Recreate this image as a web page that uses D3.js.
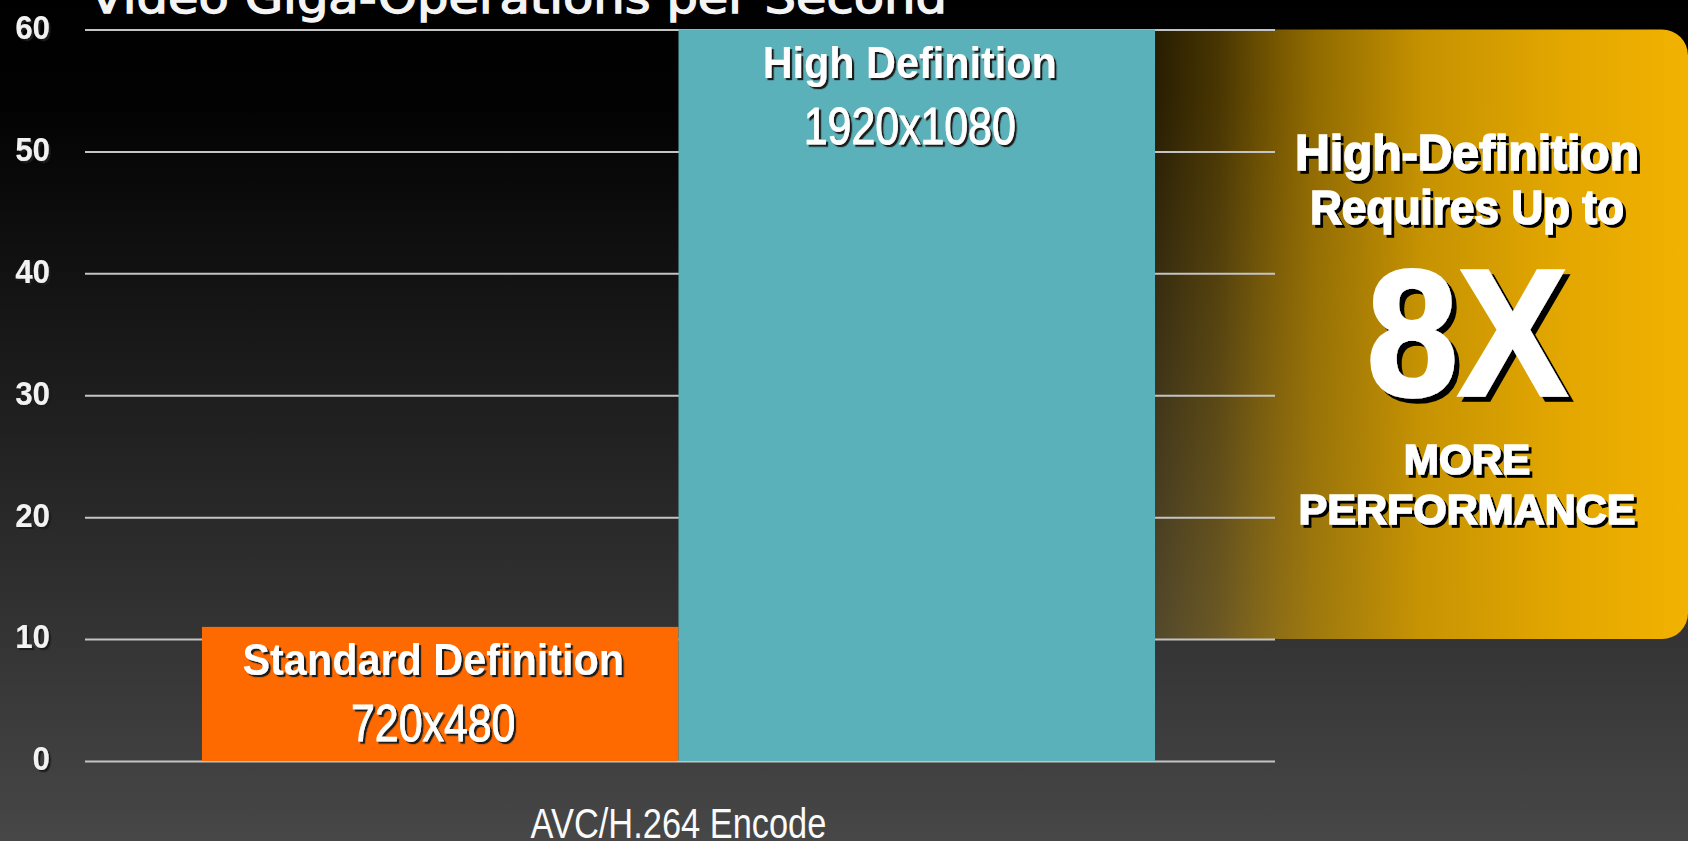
<!DOCTYPE html>
<html>
<head>
<meta charset="utf-8">
<script src="https://cdn.jsdelivr.net/npm/d3@7/dist/d3.min.js"></script>
<style>
  html, body { margin: 0; padding: 0; background: #000; overflow: hidden; }
  svg { display: block; }
</style>
</head>
<body>
<svg id="chart" width="1688" height="841"></svg>
<script>
// ---------------- data ----------------
const titleText = "Video Giga-Operations per Second";
const categories = ["AVC/H.264 Encode"];
const seriesNames = ["Standard Definition", "High Definition"];
const seriesResolutions = ["720x480", "1920x1080"];
const seriesValues = [11, 60];
const yTickValues = [0, 10, 20, 30, 40, 50, 60];
const yDomain = [0, 60];
const calloutSpan = [10, 60];
const calloutLines = ["High-Definition", "Requires Up to", "8X", "MORE", "PERFORMANCE"];

// ---------------- styles / layout ----------------
const W = 1688, H = 841;
const seriesColors = ["#ff6a00", "#5bb1b9"];
const plot = { left: 85, right: 1275, top: 29.5, bottom: 761 };

const svg = d3.select("#chart");
const defs = svg.append("defs");

// background gradient
const bg = defs.append("linearGradient").attr("id", "bg").attr("x1", 0).attr("y1", 0).attr("x2", 0).attr("y2", 1);
bg.append("stop").attr("offset", "0").attr("stop-color", "#000");
bg.append("stop").attr("offset", "0.12").attr("stop-color", "#020202");
bg.append("stop").attr("offset", "1").attr("stop-color", "#474747");
svg.append("rect").attr("width", W).attr("height", H).attr("fill", "url(#bg)");

// shadows
function shadow(id, d, col) {
  const f = defs.append("filter").attr("id", id).attr("x", "-10%").attr("y", "-20%").attr("width", "130%").attr("height", "150%");
  f.append("feDropShadow").attr("dx", d).attr("dy", d).attr("stdDeviation", 0.4)
    .attr("flood-color", col).attr("flood-opacity", 1);
}
shadow("shSmall", 2.2, "#1a1a1a");
shadow("shMid", 3, "#000");
shadow("shBig", 5, "#000");

// scales
const y = d3.scaleLinear().domain(yDomain).range([plot.bottom, plot.top]);
const x0 = d3.scaleBand().domain(categories).range([plot.left - 1.5, plot.right - 1.5]).paddingOuter(0.1243).paddingInner(0);
const x1 = d3.scaleBand().domain(seriesNames).range([0, x0.bandwidth()]).padding(0);

// title (cut at top edge as in reference)
svg.append("text")
  .attr("x", 90).attr("y", 13)
  .attr("font-family", "DejaVu Sans, sans-serif")
  .attr("font-size", 44)
  .attr("fill", "#f4f4f4")
  .attr("stroke", "#f4f4f4").attr("stroke-width", 1.3)
  .attr("textLength", 857).attr("lengthAdjust", "spacingAndGlyphs")
  .text(titleText);

// callout box (spans value range calloutSpan, to the right of the group)
const boxX0 = x0(categories[0]) + x0.bandwidth();
const boxX1 = W;
const boxY0 = y(calloutSpan[1]), boxY1 = y(calloutSpan[0]);
const r = 26;
const cg = defs.append("linearGradient").attr("id", "callout")
  .attr("gradientUnits", "userSpaceOnUse").attr("x1", boxX0).attr("x2", boxX1).attr("y1", 0).attr("y2", 0);
[["0", "#f0b000", 0.16], ["0.12", "#e0a400", 0.32], ["0.3", "#c99400", 0.72], ["0.5", "#cf9900", 0.95], ["0.75", "#e2a600", 1], ["1", "#f2b200", 1]]
  .forEach(s => cg.append("stop").attr("offset", s[0]).attr("stop-color", s[1]).attr("stop-opacity", s[2]));
const boxPath = d3.path();
boxPath.moveTo(boxX0, boxY0);
boxPath.lineTo(boxX1 - r, boxY0);
boxPath.arcTo(boxX1, boxY0, boxX1, boxY0 + r, r);
boxPath.lineTo(boxX1, boxY1 - r);
boxPath.arcTo(boxX1, boxY1, boxX1 - r, boxY1, r);
boxPath.lineTo(boxX0, boxY1);
boxPath.closePath();
svg.append("path").attr("d", boxPath.toString()).attr("fill", "url(#callout)");

// y axis with gridlines
const yAxis = svg.append("g")
  .attr("transform", `translate(${plot.left},0)`)
  .call(d3.axisLeft(y).tickValues(yTickValues).tickSize(-(plot.right - plot.left)).tickPadding(35).tickFormat(d3.format("d")));
yAxis.select(".domain").remove();
yAxis.selectAll(".tick line").attr("stroke", "#c4c4c4").attr("stroke-width", 2);
yAxis.selectAll(".tick text")
  .attr("fill", "#f2f2f2")
  .attr("font-family", "Liberation Sans, Arial, sans-serif")
  .attr("font-weight", "bold")
  .attr("font-size", 34)
  .attr("dy", "0.26em")
  .attr("filter", "url(#shSmall)");
condense(yAxis.selectAll(".tick text"), 0.92);

// bars
const group = svg.append("g").selectAll("g").data(categories).join("g")
  .attr("transform", d => `translate(${x0(d)},0)`);
const barData = seriesNames.map((n, i) => ({ name: n, res: seriesResolutions[i], value: seriesValues[i], color: seriesColors[i] }));
group.selectAll("rect").data(barData).join("rect")
  .attr("x", d => x1(d.name))
  .attr("width", x1.bandwidth())
  .attr("y", d => y(d.value))
  .attr("height", d => y(0) - y(d.value))
  .attr("fill", d => d.color);

// condensed text helper
function condense(sel, factor) {
  sel.each(function () {
    const w = this.getComputedTextLength();
    d3.select(this).attr("textLength", w * factor).attr("lengthAdjust", "spacingAndGlyphs");
  });
}

// bar labels
const lbl1 = group.selectAll("text.l1").data(barData).join("text").attr("class", "l1")
  .attr("x", d => x1(d.name) + x1.bandwidth() / 2 - 7)
  .attr("y", d => y(d.value) + 48.5)
  .attr("text-anchor", "middle")
  .attr("font-family", "Liberation Sans, Arial, sans-serif")
  .attr("font-weight", "bold").attr("font-size", 44)
  .attr("fill", "#fff").attr("filter", "url(#shSmall)")
  .text(d => d.name);
condense(lbl1, 0.94);
const lbl2 = group.selectAll("text.l2").data(barData).join("text").attr("class", "l2")
  .attr("x", d => x1(d.name) + x1.bandwidth() / 2 - 7)
  .attr("y", d => y(d.value) + 114)
  .attr("text-anchor", "middle")
  .attr("font-family", "Liberation Sans, Arial, sans-serif")
  .attr("font-size", 51)
  .attr("fill", "#fff").attr("stroke", "#fff").attr("stroke-width", 0.9)
  .attr("filter", "url(#shSmall)")
  .text(d => d.res);
condense(lbl2, 0.84);

// x axis label
const xAxis = svg.append("g")
  .attr("transform", `translate(0,${y(0)})`)
  .call(d3.axisBottom(x0).tickSize(0).tickPadding(46));
xAxis.select(".domain").remove();
xAxis.selectAll(".tick text")
  .attr("fill", "#fafafa")
  .attr("font-family", "Liberation Sans, Arial, sans-serif")
  .attr("font-size", 43);
condense(xAxis.selectAll(".tick text"), 0.80);

// callout text
const calloutStyle = [
  { dy: 140.5, size: 50, f: 0.96, sh: "shMid" },
  { dy: 194.5, size: 48, f: 0.92, sh: "shMid" },
  { dy: 365.5, size: 180, f: 0.91, sh: "shBig" },
  { dy: 444.5, size: 43, f: 0.98, sh: "shMid" },
  { dy: 494.5, size: 43, f: 1.0, sh: "shMid" }
];
const calloutCx = 1467;
const ct = svg.append("g").selectAll("text").data(calloutLines).join("text")
  .attr("x", calloutCx)
  .attr("y", (d, i) => boxY0 + calloutStyle[i].dy)
  .attr("text-anchor", "middle")
  .attr("font-family", "Liberation Sans, Arial, sans-serif")
  .attr("font-weight", "bold")
  .attr("font-size", (d, i) => calloutStyle[i].size)
  .attr("fill", "#fff")
  .attr("stroke", "#fff")
  .attr("stroke-width", (d, i) => i === 2 ? 3.5 : 1.6)
  .attr("filter", (d, i) => `url(#${calloutStyle[i].sh})`)
  .text(d => d);
ct.each(function (d, i) {
  const w = this.getComputedTextLength();
  d3.select(this).attr("textLength", w * calloutStyle[i].f).attr("lengthAdjust", "spacingAndGlyphs");
});
</script>
</body>
</html>
